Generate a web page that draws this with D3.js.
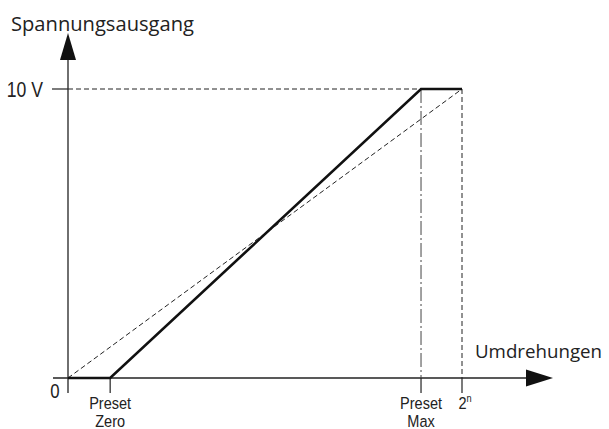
<!DOCTYPE html>
<html><head><meta charset="utf-8">
<script src="https://cdn.jsdelivr.net/npm/d3@7"></script>
<style>body{margin:0;background:#fff}svg{display:block}</style>
</head><body>
<script>
// Data (normalised revolutions on x, volts on y)
const xTickLabels = [["0"], ["Preset","Zero"], ["Preset","Max"], ["2ⁿ"]];
const xTickValues = [0, 0.107, 0.896, 1];
const yTickValues = [0, 10];
const yTickLabels = ["0", "10 V"];
const outputX = [0, 0.107, 0.896, 1];      // thick output curve
const outputY = [0, 0, 10, 10];
const idealX = [0, 1];                      // dashed reference line
const idealY = [0, 10];
const axisTitles = ["Spannungsausgang", "Umdrehungen"];

const W = 609, H = 429;
const svg = d3.select("body").append("svg").attr("width", W).attr("height", H);
const x = d3.scaleLinear().domain([0, 1]).range([68, 462]);
const y = d3.scaleLinear().domain([0, 10]).range([378, 89]);
const col = "#222";
const narrow = "'Liberation Sans Narrow','Liberation Sans',Arial,sans-serif";
const main = "'Open Sans','Noto Sans',sans-serif";

// axes
svg.append("line").attr("x1", 53).attr("x2", 530).attr("y1", y(0)).attr("y2", y(0))
  .attr("stroke", col).attr("stroke-width", 1.3);
svg.append("line").attr("x1", x(0)).attr("x2", x(0)).attr("y1", 58).attr("y2", 393)
  .attr("stroke", col).attr("stroke-width", 1.3);
// arrows
svg.append("path").attr("d", `M${x(0)},33 L${x(0)-8},60 L${x(0)+8},60 Z`).attr("fill", "#111");
svg.append("path").attr("d", `M553,${y(0)} L526,${y(0)-8.5} L526,${y(0)+8.5} Z`).attr("fill", "#111");

// 10 V tick + dashed horizontal
svg.append("line").attr("x1", 52).attr("x2", x(0)).attr("y1", y(10)).attr("y2", y(10))
  .attr("stroke", col).attr("stroke-width", 1.2);
svg.append("line").attr("x1", x(0)).attr("x2", x(1)).attr("y1", y(10)).attr("y2", y(10))
  .attr("stroke", col).attr("stroke-width", 1).attr("stroke-dasharray", "5,3");

// x ticks
[1, 2, 3].forEach(i => {
  svg.append("line").attr("x1", x(xTickValues[i])).attr("x2", x(xTickValues[i]))
    .attr("y1", y(0)).attr("y2", 393).attr("stroke", col).attr("stroke-width", 1.2);
});
// vertical guides
svg.append("line").attr("x1", x(xTickValues[2])).attr("x2", x(xTickValues[2]))
  .attr("y1", y(10)).attr("y2", y(0)).attr("stroke", "#444").attr("stroke-width", 1)
  .attr("stroke-dasharray", "14,3,2,3");
svg.append("line").attr("x1", x(xTickValues[3])).attr("x2", x(xTickValues[3]))
  .attr("y1", y(10)).attr("y2", y(0)).attr("stroke", col).attr("stroke-width", 1)
  .attr("stroke-dasharray", "5,3");

// ideal dashed diagonal
const line = d3.line().x(d => x(d[0])).y(d => y(d[1]));
svg.append("path").attr("d", line(d3.zip(idealX, idealY))).attr("fill", "none")
  .attr("stroke", col).attr("stroke-width", 1).attr("stroke-dasharray", "5,3");
// output curve
svg.append("path").attr("d", line(d3.zip(outputX, outputY))).attr("fill", "none")
  .attr("stroke", "#111").attr("stroke-width", 2.6).attr("stroke-linejoin", "miter");

// labels
svg.append("text").attr("x", 11).attr("y", 31).attr("font-family", main).attr("font-size", 20)
  .attr("fill", "#222").attr("textLength", 183).attr("lengthAdjust", "spacingAndGlyphs").text(axisTitles[0]);
svg.append("text").attr("x", 475).attr("y", 358).attr("font-family", main).attr("font-size", 18)
  .attr("fill", "#222").attr("textLength", 127).attr("lengthAdjust", "spacingAndGlyphs").text(axisTitles[1]);

function narrowText(str, cx, by, size, sx, anchor) {
  return svg.append("text")
    .attr("transform", `translate(${cx},${by}) scale(${sx},1)`)
    .attr("text-anchor", anchor).attr("font-family", narrow).attr("font-size", size)
    .attr("fill", "#222").text(str);
}
narrowText(yTickLabels[1], 43, y(10) + 8, 22, 0.8, "end");
narrowText(yTickLabels[0], 55, 398, 21, 0.8, "middle");

[1, 2].forEach(i => {
  xTickLabels[i].forEach((s, k) => narrowText(s, x(xTickValues[i]), 409 + k * 18, 16.5, 0.88, "middle"));
});
const t2 = svg.append("text").attr("transform", `translate(${x(1) + 3},409) scale(0.88,1)`)
  .attr("text-anchor", "middle").attr("font-family", narrow).attr("font-size", 16.5).attr("fill", "#222");
t2.append("tspan").text("2");
t2.append("tspan").attr("font-size", 10.5).attr("dy", -7).text("n");
</script>
</body></html>
